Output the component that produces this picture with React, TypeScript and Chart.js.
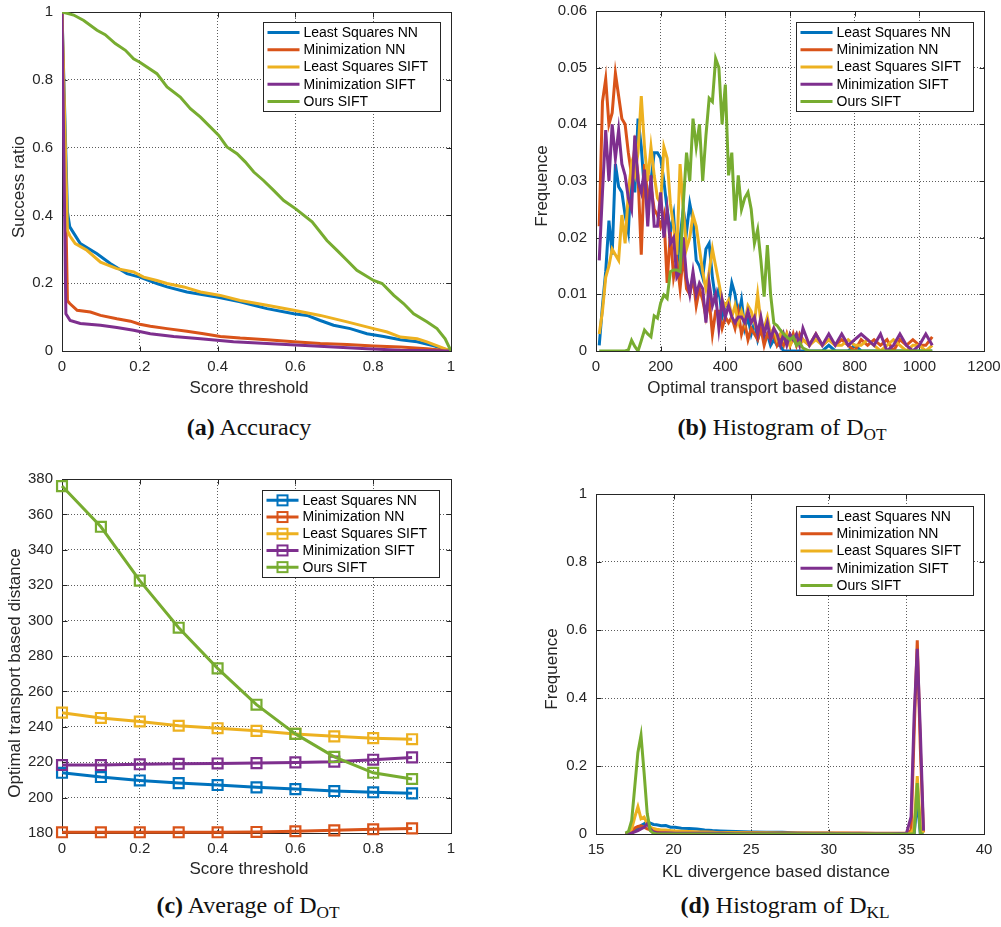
import React, { useEffect, useRef } from 'react';
import { Chart, registerables } from 'chart.js';

Chart.register(...registerables);

const FONT = "'Liberation Sans', Arial, Helvetica, sans-serif";
const SERIF = "'Liberation Serif', 'Times New Roman', serif";
const INK = '#262626';

const SERIES = ['Least Squares NN', 'Minimization NN', 'Least Squares SIFT', 'Minimization SIFT', 'Ours SIFT'];
const COLORS = ['#0072BD', '#D95319', '#EDB120', '#7E2F8E', '#77AC30'];

// ---------- (a) Accuracy ----------
const accLSNN_x = [0, 0.014, 0.02, 0.047, 0.09, 0.124, 0.167, 0.2, 0.244, 0.27, 0.321, 0.398, 0.458, 0.493, 0.527, 0.596, 0.63, 0.664, 0.698, 0.741, 0.784, 0.827, 0.87, 0.913, 0.956, 1];
const accLSNN_y = [1, 0.41, 0.366, 0.317, 0.287, 0.258, 0.228, 0.218, 0.199, 0.189, 0.174, 0.159, 0.145, 0.135, 0.125, 0.11, 0.105, 0.09, 0.076, 0.066, 0.051, 0.043, 0.033, 0.027, 0.015, 0];
const accMinNN_x = [0, 0.014, 0.02, 0.039, 0.073, 0.099, 0.141, 0.176, 0.2, 0.227, 0.27, 0.321, 0.364, 0.407, 0.458, 0.527, 0.596, 0.664, 0.733, 0.801, 0.87, 0.938, 1];
const accMinNN_y = [1, 0.148, 0.14, 0.12, 0.115, 0.105, 0.095, 0.088, 0.079, 0.073, 0.066, 0.058, 0.051, 0.043, 0.038, 0.033, 0.027, 0.022, 0.019, 0.015, 0.012, 0.007, 0];
const accLSSIFT_x = [0, 0.014, 0.02, 0.034, 0.064, 0.099, 0.141, 0.184, 0.21, 0.244, 0.27, 0.313, 0.356, 0.407, 0.458, 0.527, 0.596, 0.664, 0.733, 0.801, 0.836, 0.87, 0.913, 0.938, 1];
const accLSSIFT_y = [1, 0.355, 0.34, 0.317, 0.297, 0.262, 0.243, 0.233, 0.218, 0.208, 0.199, 0.189, 0.174, 0.164, 0.149, 0.135, 0.12, 0.105, 0.086, 0.066, 0.056, 0.041, 0.036, 0.027, 0];
const accMinSIFT_x = [0, 0.01, 0.021, 0.047, 0.099, 0.141, 0.184, 0.227, 0.287, 0.356, 0.441, 0.527, 0.613, 0.698, 0.784, 0.87, 1];
const accMinSIFT_y = [1, 0.11, 0.09, 0.081, 0.076, 0.069, 0.061, 0.051, 0.043, 0.036, 0.027, 0.022, 0.017, 0.012, 0.007, 0.002, 0];
const accOurs_x = [0, 0.03, 0.056, 0.09, 0.111, 0.137, 0.163, 0.184, 0.2, 0.244, 0.27, 0.304, 0.33, 0.356, 0.403, 0.424, 0.45, 0.471, 0.493, 0.518, 0.544, 0.57, 0.6, 0.643, 0.681, 0.707, 0.733, 0.758, 0.801, 0.823, 0.853, 0.878, 0.904, 0.938, 0.964, 0.985, 1];
const accOurs_y = [1, 0.991, 0.975, 0.946, 0.933, 0.907, 0.887, 0.862, 0.852, 0.818, 0.779, 0.749, 0.715, 0.69, 0.636, 0.602, 0.582, 0.558, 0.528, 0.503, 0.474, 0.444, 0.42, 0.381, 0.326, 0.297, 0.267, 0.238, 0.208, 0.199, 0.164, 0.14, 0.11, 0.086, 0.066, 0.036, 0];

const unitTicks = [0, 0.2, 0.4, 0.6, 0.8, 1];
const unitTickLabels = ['0', '0.2', '0.4', '0.6', '0.8', '1'];

// ---------- (b) Histogram of D_OT ----------
const otX = [10, 20, 30, 40, 50, 60, 70, 80, 90, 100, 110, 120, 130, 140, 150, 160, 170, 180, 190, 200, 210, 220, 230, 240, 250, 260, 270, 280, 290, 300, 310, 320, 330, 340, 350, 360, 370, 380, 390, 400, 410, 420, 430, 440, 450, 460, 470, 480, 490, 500, 510, 520, 530, 540, 550, 560, 570, 580, 590, 600, 610, 620, 630, 640, 660, 680, 700, 720, 740, 760, 780, 800, 820, 840, 860, 880, 900, 920, 940, 960, 980, 1000, 1020, 1040];
const otLSNN = [
  0.001, 0.008, 0.014, 0.023, 0.017, 0.033, 0.029, 0.028, 0.024, 0.021,
  0.032, 0.028, 0.041, 0.036, 0.028, 0.026, 0.030, 0.035, 0.035, 0.034,
  0.030, 0.025, 0.021, 0.024, 0.015, 0.020, 0.025, 0.021, 0.026, 0.023,
  0.016, 0.015, 0.013, 0.018, 0.019, 0.013, 0.009, 0.011, 0.006, 0.008,
  0.008, 0.012, 0.010, 0.006, 0.009, 0.004, 0.006, 0.003, 0.005, 0.002,
  0.004, 0.002, 0.003, 0.001, 0.002, 0.001, 0.001, 0, 0, 0,
  0, 0, 0, 0,
  0, 0, 0, 0.001, 0, 0, 0, 0.001, 0, 0, 0, 0, 0, 0, 0, 0, 0, 0, 0, 0];
const otMinNN = [
  0.022, 0.044, 0.048, 0.040, 0.042, 0.049, 0.045, 0.041, 0.040, 0.035,
  0.031, 0.036, 0.031, 0.017, 0.033, 0.027, 0.029, 0.025, 0.024, 0.022,
  0.024, 0.012, 0.021, 0.013, 0.016, 0.011, 0.017, 0.011, 0.010, 0.013,
  0.008, 0.011, 0.009, 0.006, 0.009, 0.003, 0.007, 0.007, 0.004, 0.006,
  0.005, 0.006, 0.004, 0.007, 0.003, 0.005, 0.002, 0.004, 0.003, 0.002,
  0.004, 0.001, 0.003, 0.002, 0.003, 0.001, 0.002, 0.001, 0.003, 0.001,
  0.003, 0.001, 0.003, 0.002,
  0.001, 0.003, 0.001, 0.002, 0.001, 0.002, 0.001, 0, 0.002, 0.001, 0.002, 0.001, 0.002, 0, 0.002, 0.001, 0.002, 0.001, 0.001, 0.0025];
const otLSSIFT = [
  0.003, 0.007, 0.013, 0.015, 0.018, 0.017, 0.016, 0.024, 0.019, 0.028,
  0.033, 0.031, 0.035, 0.045, 0.036, 0.030, 0.036, 0.031, 0.027, 0.026,
  0.036, 0.034, 0.026, 0.022, 0.017, 0.033, 0.025, 0.018, 0.020, 0.024,
  0.022, 0.018, 0.014, 0.011, 0.014, 0.018, 0.015, 0.012, 0.009, 0.008,
  0.009, 0.006, 0.008, 0.005, 0.007, 0.005, 0.008, 0.007, 0.005, 0.010,
  0.005, 0.004, 0.006, 0.003, 0.004, 0.002, 0.003, 0.002, 0.003, 0.001,
  0.002, 0.003, 0.001, 0.002,
  0.001, 0.002, 0.001, 0.002, 0.001, 0.001, 0.002, 0.001, 0.001, 0.002, 0.001, 0, 0.001, 0.002, 0.001, 0, 0.001, 0.001, 0, 0.001];
const otMinSIFT = [
  0.016, 0.028, 0.039, 0.030, 0.040, 0.034, 0.039, 0.033, 0.031, 0.027,
  0.025, 0.038, 0.030, 0.028, 0.032, 0.022, 0.031, 0.022, 0.022, 0.028,
  0.020, 0.025, 0.019, 0.020, 0.013, 0.014, 0.020, 0.013, 0.010, 0.014,
  0.010, 0.012, 0.011, 0.005, 0.012, 0.008, 0.010, 0.004, 0.009, 0.006,
  0.008, 0.006, 0.005, 0.006, 0.006, 0.005, 0.007, 0.005, 0.006, 0.003,
  0.006, 0.003, 0.005, 0.002, 0.004, 0.003, 0.001, 0.003, 0.001, 0.003,
  0.002, 0.003, 0.001, 0.004,
  0.001, 0.003, 0.001, 0.003, 0.001, 0.003, 0.001, 0.002, 0.003, 0.002, 0.001, 0.003, 0, 0.001, 0.003, 0.001, 0, 0.001, 0.003, 0.001];
const otOurs = [
  0, 0, 0, 0, 0, 0, 0, 0, 0, 0.0002,
  0.0019, 0.0008, 0, 0.0018, 0.0037, 0.003, 0.0025, 0.0062, 0.0058, 0.0085,
  0.0099, 0.0093, 0.014, 0.0143, 0.0143, 0.014, 0.026, 0.035, 0.030, 0.041,
  0.036, 0.040, 0.030, 0.038, 0.0446, 0.044, 0.0516, 0.050, 0.040, 0.047,
  0.031, 0.035, 0.023, 0.031, 0.025, 0.027, 0.028, 0.025, 0.019, 0.0214,
  0.016, 0.0096, 0.0187, 0.010, 0.0049, 0.0045, 0.0037, 0.003, 0.0025, 0.002,
  0.0025, 0.001, 0.0015, 0.0005,
  0, 0, 0, 0, 0, 0, 0, 0, 0, 0, 0, 0, 0, 0, 0, 0, 0, 0, 0, 0];
const otXTicks = [0, 200, 400, 600, 800, 1000, 1200];
const otXTickLabels = ['0', '200', '400', '600', '800', '1000', '1200'];
const otYTicks = [0, 0.01, 0.02, 0.03, 0.04, 0.05, 0.06];
const otYTickLabels = ['0', '0.01', '0.02', '0.03', '0.04', '0.05', '0.06'];

// ---------- (c) Average of D_OT ----------
const avgX = [0, 0.1, 0.2, 0.3, 0.4, 0.5, 0.6, 0.7, 0.8, 0.9];
const avgLSNN = [214, 211.6, 209.7, 208.2, 207.1, 205.8, 204.8, 203.7, 203, 202.4];
const avgMinNN = [180.4, 180.4, 180.4, 180.4, 180.4, 180.6, 181, 181.5, 182.1, 182.6];
const avgLSSIFT = [248, 245, 243, 240.6, 239.2, 237.7, 236, 234.6, 233.6, 233];
const avgMinSIFT = [218.4, 218.4, 218.8, 219.1, 219.3, 219.5, 219.9, 220.3, 221.4, 222.7];
const avgOurs = [376, 353, 322.6, 296, 273, 252.5, 236, 223, 214, 210.5];
const avgYTicks = [180, 200, 220, 240, 260, 280, 300, 320, 340, 360, 380];
const avgYTickLabels = ['180', '200', '220', '240', '260', '280', '300', '320', '340', '360', '380'];

// ---------- (d) Histogram of D_KL ----------
const klX = [16.9, 17.1, 17.3, 17.5, 17.7, 17.9, 18.1, 18.3, 18.5, 18.7, 18.9, 19.2, 19.5, 19.8, 20.1, 20.5, 21, 21.5, 22, 22.5, 23, 24, 25, 26, 27, 28, 29, 30, 31, 32, 33, 34, 35, 35.3, 35.5, 35.7, 35.9, 36.1];
const klLSNN = [0, 0, 0.003, 0.01, 0.018, 0.025, 0.03, 0.036, 0.032, 0.028, 0.027, 0.024, 0.025, 0.02, 0.02, 0.017, 0.016, 0.015, 0.012, 0.01, 0.009, 0.007, 0.006, 0.005, 0.005, 0.003, 0.002, 0.002, 0.001, 0.001, 0.001, 0.001, 0.001, 0.002, 0, 0.1, 0, 0];
const klMinNN = [0, 0.002, 0.008, 0.018, 0.022, 0.024, 0.02, 0.015, 0.012, 0.01, 0.009, 0.008, 0.008, 0.007, 0.007, 0.006, 0.006, 0.005, 0.005, 0.005, 0.004, 0.004, 0.004, 0.003, 0.003, 0.003, 0.003, 0.003, 0.003, 0.003, 0.002, 0.002, 0.003, 0.01, 0.3, 0.57, 0.25, 0.005];
const klLSSIFT = [0, 0.003, 0.015, 0.05, 0.08, 0.045, 0.05, 0.03, 0.02, 0.016, 0.014, 0.012, 0.012, 0.01, 0.009, 0.008, 0.007, 0.006, 0.006, 0.005, 0.004, 0.004, 0.003, 0.003, 0.002, 0.002, 0.002, 0.002, 0.002, 0.001, 0.001, 0.001, 0.002, 0.003, 0.02, 0.17, 0.02, 0.003];
const klMinSIFT = [0, 0.001, 0.003, 0.006, 0.01, 0.015, 0.02, 0.03, 0.015, 0.006, 0.004, 0.003, 0.003, 0.003, 0.002, 0.002, 0.002, 0.002, 0.002, 0.002, 0.002, 0.001, 0.001, 0.001, 0.001, 0.001, 0.001, 0.001, 0.001, 0.001, 0.001, 0.001, 0.002, 0.05, 0.35, 0.545, 0.3, 0.01];
const klOurs = [0.003, 0.008, 0.04, 0.14, 0.24, 0.29, 0.18, 0.06, 0.01, 0.002, 0, 0, 0, 0, 0, 0, 0, 0, 0, 0, 0, 0, 0, 0, 0, 0, 0, 0, 0, 0, 0, 0, 0, 0, 0, 0.15, 0, 0];
const klXTicks = [15, 20, 25, 30, 35, 40];
const klXTickLabels = ['15', '20', '25', '30', '35', '40'];

// ---------- helpers ----------
function pts(xs: number[], ys: number[]) {
  return xs.map((x, i) => ({ x, y: ys[i] }));
}

function lineSets(series: { x: number[]; y: number[] }[], markers: boolean) {
  return series.map((s, i) => ({
    label: SERIES[i],
    data: pts(s.x, s.y),
    borderColor: COLORS[i],
    backgroundColor: 'rgba(0,0,0,0)',
    borderWidth: 3,
    tension: 0,
    order: 4 - i,
    pointRadius: markers ? 7 : 0,
    pointStyle: 'rect',
    pointBorderWidth: 2.2,
    pointBorderColor: COLORS[i],
    pointBackgroundColor: 'rgba(0,0,0,0)',
    clip: markers ? false : undefined,
  }));
}

const matlabAxes = {
  id: 'matlabAxes',
  beforeDatasetsDraw(chart: any, _a: any, o: any) {
    const { ctx, chartArea: a } = chart;
    ctx.save();
    ctx.strokeStyle = INK;
    ctx.lineWidth = 1;
    const L = Math.round(a.left) + 0.5, T = Math.round(a.top) + 0.5;
    const R = Math.round(a.right) + 0.5, B = Math.round(a.bottom) + 0.5;
    ctx.strokeRect(L, T, R - L, B - T);
    const xs = chart.scales.x, ys = chart.scales.y;
    ctx.beginPath();
    xs.ticks.forEach((t: any) => {
      const px = Math.round(xs.getPixelForValue(t.value)) + 0.5;
      ctx.moveTo(px, B); ctx.lineTo(px, B - 5);
      ctx.moveTo(px, T); ctx.lineTo(px, T + 5);
    });
    ys.ticks.forEach((t: any) => {
      const py = Math.round(ys.getPixelForValue(t.value)) + 0.5;
      ctx.moveTo(L, py); ctx.lineTo(L + 5, py);
      ctx.moveTo(R, py); ctx.lineTo(R - 5, py);
    });
    ctx.stroke();
    ctx.fillStyle = INK;
    ctx.font = `17px ${FONT}`;
    ctx.textAlign = 'center';
    ctx.textBaseline = 'middle';
    ctx.fillText(o.xTitle, o.xTitleX, o.xTitleY);
    ctx.save();
    ctx.translate(o.yTitleX, o.yTitleY);
    ctx.rotate(-Math.PI / 2);
    ctx.fillText(o.yTitle, 0, 0);
    ctx.restore();
    ctx.restore();
  },
  afterDatasetsDraw(chart: any, _a: any, o: any) {
    const { ctx, chartArea: a } = chart;
    const ds = chart.data.datasets;
    ctx.save();
    ctx.font = `14px ${FONT}`;
    let maxW = 0;
    ds.forEach((d: any) => { maxW = Math.max(maxW, ctx.measureText(d.label).width); });
    const lineStart = 4, lineLen = 32, gap = 4, padRight = 12, padV = 1.5;
    const w = Math.round(lineStart + lineLen + gap + maxW + padRight);
    const h = Math.round(o.rowH * ds.length + padV * 2);
    const x0 = Math.round(a.right - o.insetRight - w) + 0.5;
    const y0 = Math.round(a.top + o.insetTop) + 0.5;
    ctx.fillStyle = '#ffffff';
    ctx.fillRect(x0, y0, w, h);
    ctx.strokeStyle = INK;
    ctx.lineWidth = 1;
    ctx.strokeRect(x0, y0, w, h);
    ds.forEach((d: any, i: number) => {
      const cy = y0 + padV + o.rowH * (i + 0.5);
      ctx.strokeStyle = d.borderColor;
      ctx.lineWidth = 3;
      ctx.beginPath();
      ctx.moveTo(x0 + lineStart, cy);
      ctx.lineTo(x0 + lineStart + lineLen, cy);
      ctx.stroke();
      if (o.marker) {
        ctx.lineWidth = 2;
        ctx.strokeRect(x0 + lineStart + lineLen / 2 - 5, cy - 5, 10, 10);
      }
      ctx.fillStyle = '#000';
      ctx.textAlign = 'left';
      ctx.textBaseline = 'middle';
      ctx.fillText(d.label, x0 + lineStart + lineLen + gap, cy + 0.5);
    });
    ctx.restore();
  },
};

type Axis = { min: number; max: number; ticks: number[]; labels: string[] };
type PanelSpec = {
  left: number; top: number; width: number; height: number;
  area: { l: number; t: number; r: number; b: number };
  datasets: any[];
  x: Axis; y: Axis;
  xTitle: string; yTitle: string;
  xTitlePos: [number, number];
  yTitlePos: [number, number];
  legend: { insetRight: number; insetTop: number; rowH: number; marker: boolean };
};

function scaleOpts(ax: Axis, isX: boolean, size: number) {
  return {
    type: 'linear',
    min: ax.min,
    max: ax.max,
    afterBuildTicks: (s: any) => { s.ticks = ax.ticks.map((v) => ({ value: v })); },
    afterFit: (s: any) => {
      if (isX) { s.height = size; } else { s.width = size; }
      s.paddingLeft = 0; s.paddingRight = 0; s.paddingTop = 0; s.paddingBottom = 0;
    },
    ticks: {
      callback: (_v: any, i: number) => ax.labels[i],
      color: INK,
      font: { family: FONT, size: 15 },
      padding: isX ? 7 : 9,
      autoSkip: false,
      maxRotation: 0,
      minRotation: 0,
    },
    grid: { color: 'rgba(38,38,38,0.75)', lineWidth: 1, drawTicks: false },
    border: { display: false, dash: [1, 2] },
    title: { display: false },
  };
}

function Panel({ spec }: { spec: PanelSpec }) {
  const ref = useRef<HTMLCanvasElement | null>(null);
  useEffect(() => {
    if (!ref.current) return;
    const s = spec;
    const chart = new Chart(ref.current, {
      type: 'line',
      data: { datasets: s.datasets },
      options: {
        animation: false,
        responsive: false,
        events: [],
        devicePixelRatio: 1,
        layout: { padding: { left: 0, top: s.area.t, right: s.width - s.area.r, bottom: 0 } },
        scales: {
          x: scaleOpts(s.x, true, s.height - s.area.b),
          y: scaleOpts(s.y, false, s.area.l),
        },
        plugins: {
          legend: { display: false },
          tooltip: { enabled: false },
          matlabAxes: {
            xTitle: s.xTitle, yTitle: s.yTitle,
            xTitleX: s.xTitlePos[0], xTitleY: s.xTitlePos[1],
            yTitleX: s.yTitlePos[0], yTitleY: s.yTitlePos[1],
            insetRight: s.legend.insetRight, insetTop: s.legend.insetTop,
            rowH: s.legend.rowH, marker: s.legend.marker,
          },
        } as any,
      } as any,
      plugins: [matlabAxes as any],
    });
    return () => chart.destroy();
  }, [spec]);
  return (
    <canvas
      ref={ref}
      width={spec.width}
      height={spec.height}
      style={{ position: 'absolute', left: spec.left, top: spec.top, width: spec.width, height: spec.height }}
    />
  );
}

const specA: PanelSpec = {
  left: 0, top: 0, width: 470, height: 400,
  area: { l: 62, t: 12, r: 451, b: 351 },
  datasets: lineSets([
    { x: accLSNN_x, y: accLSNN_y },
    { x: accMinNN_x, y: accMinNN_y },
    { x: accLSSIFT_x, y: accLSSIFT_y },
    { x: accMinSIFT_x, y: accMinSIFT_y },
    { x: accOurs_x, y: accOurs_y },
  ], false),
  x: { min: 0, max: 1, ticks: unitTicks, labels: unitTickLabels },
  y: { min: 0, max: 1, ticks: unitTicks, labels: unitTickLabels },
  xTitle: 'Score threshold', yTitle: 'Success ratio',
  xTitlePos: [249, 388], yTitlePos: [19, 187],
  legend: { insetRight: 11, insetTop: 10, rowH: 17.2, marker: false },
};

const specB: PanelSpec = {
  left: 520, top: 0, width: 481, height: 400,
  area: { l: 76, t: 11, r: 464, b: 351 },
  datasets: lineSets([
    { x: otX, y: otLSNN },
    { x: otX, y: otMinNN },
    { x: otX, y: otLSSIFT },
    { x: otX, y: otMinSIFT },
    { x: otX, y: otOurs },
  ], false),
  x: { min: 0, max: 1200, ticks: otXTicks, labels: otXTickLabels },
  y: { min: 0, max: 0.06, ticks: otYTicks, labels: otYTickLabels },
  xTitle: 'Optimal transport based distance', yTitle: 'Frequence',
  xTitlePos: [252, 388], yTitlePos: [22, 186],
  legend: { insetRight: 11, insetTop: 11, rowH: 17.2, marker: false },
};

const specC: PanelSpec = {
  left: 0, top: 460, width: 470, height: 420,
  area: { l: 62, t: 19, r: 451, b: 373 },
  datasets: lineSets([
    { x: avgX, y: avgLSNN },
    { x: avgX, y: avgMinNN },
    { x: avgX, y: avgLSSIFT },
    { x: avgX, y: avgMinSIFT },
    { x: avgX, y: avgOurs },
  ], true),
  x: { min: 0, max: 1, ticks: unitTicks, labels: unitTickLabels },
  y: { min: 180, max: 380, ticks: avgYTicks, labels: avgYTickLabels },
  xTitle: 'Score threshold', yTitle: 'Optimal transport based distance',
  xTitlePos: [249, 409], yTitlePos: [15, 213],
  legend: { insetRight: 12, insetTop: 11, rowH: 16.7, marker: true },
};

const specD: PanelSpec = {
  left: 520, top: 460, width: 481, height: 420,
  area: { l: 76, t: 34, r: 464, b: 374 },
  datasets: lineSets([
    { x: klX, y: klLSNN },
    { x: klX, y: klMinNN },
    { x: klX, y: klLSSIFT },
    { x: klX, y: klMinSIFT },
    { x: klX, y: klOurs },
  ], false),
  x: { min: 15, max: 40, ticks: klXTicks, labels: klXTickLabels },
  y: { min: 0, max: 1, ticks: unitTicks, labels: unitTickLabels },
  xTitle: 'KL divergence based distance', yTitle: 'Frequence',
  xTitlePos: [256, 412], yTitlePos: [32, 209],
  legend: { insetRight: 11, insetTop: 12, rowH: 17.2, marker: false },
};

function Caption({ cx, cy, tag, text, sub }: { cx: number; cy: number; tag: string; text: string; sub?: string }) {
  return (
    <div
      style={{
        position: 'absolute', left: cx - 200, top: cy - 16, width: 400, height: 32,
        lineHeight: '32px', textAlign: 'center', whiteSpace: 'nowrap',
        fontFamily: SERIF, fontSize: 24, color: '#111',
      }}
    >
      <b>({tag})</b> {text}
      {sub ? <span style={{ fontSize: '0.72em', position: 'relative', top: '0.3em' }}>{sub}</span> : null}
    </div>
  );
}

export default function App() {
  return (
    <div style={{ position: 'absolute', left: 0, top: 0, width: 1001, height: 927, background: '#fff', overflow: 'hidden' }}>
      <Panel spec={specA} />
      <Panel spec={specB} />
      <Panel spec={specC} />
      <Panel spec={specD} />
      <Caption cx={249} cy={427} tag="a" text="Accuracy" />
      <Caption cx={782} cy={427} tag="b" text="Histogram of D" sub="OT" />
      <Caption cx={248} cy={905} tag="c" text="Average of D" sub="OT" />
      <Caption cx={785} cy={905} tag="d" text="Histogram of D" sub="KL" />
    </div>
  );
}
